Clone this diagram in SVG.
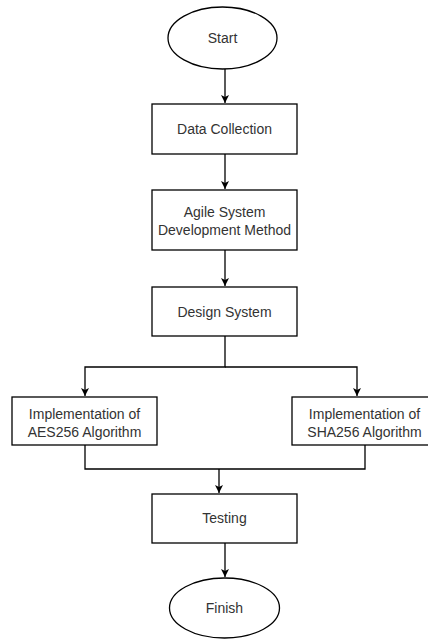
<svg xmlns="http://www.w3.org/2000/svg" width="428" height="640" viewBox="0 0 428 640">
<defs>
<marker id="arr" viewBox="0 0 10 10" refX="10" refY="5" markerWidth="8" markerHeight="8" markerUnits="userSpaceOnUse" orient="auto">
<path d="M0,0 L10,5 L0,10 L2.5,5 Z" fill="#000"/>
</marker>
</defs>
<style>
.box{fill:#fff;stroke:#000;stroke-width:1.3}
.t{font-family:"Liberation Sans",Arial,sans-serif;font-size:14px;fill:#333;text-anchor:middle}
.c{fill:none;stroke:#000;stroke-width:1.3}
</style>
<rect width="428" height="640" fill="#fff"/>
<g id="connectors">
<path class="c" d="M225,69 V103" marker-end="url(#arr)"/>
<path class="c" d="M225,154 V189" marker-end="url(#arr)"/>
<path class="c" d="M225,250 V286" marker-end="url(#arr)"/>
<path class="c" d="M225,336 V367 H85 V396" marker-end="url(#arr)"/>
<path class="c" d="M225,367 H357 V396" marker-end="url(#arr)"/>
<path class="c" d="M85,445 V469 H365 V445"/>
<path class="c" d="M219,469 V493" marker-end="url(#arr)"/>
<path class="c" d="M225,543 V577" marker-end="url(#arr)"/>
</g>
<g id="start">
<ellipse class="box" cx="222.5" cy="38" rx="54.5" ry="31"/>
<text class="t" x="222.5" y="43">Start</text>
</g>
<g id="data-collection">
<rect class="box" x="152" y="104" width="145" height="50"/>
<text class="t" x="224.5" y="134">Data Collection</text>
</g>
<g id="agile">
<rect class="box" x="152" y="190" width="145" height="60"/>
<text class="t" x="224.5" y="217">Agile System</text>
<text class="t" x="224.5" y="235">Development Method</text>
</g>
<g id="design">
<rect class="box" x="152" y="287" width="145" height="49"/>
<text class="t" x="224.5" y="316.5">Design System</text>
</g>
<g id="aes">
<rect class="box" x="12" y="397" width="145" height="48"/>
<text class="t" x="84.5" y="419">Implementation of</text>
<text class="t" x="84.5" y="437">AES256 Algorithm</text>
</g>
<g id="sha">
<rect class="box" x="292" y="397" width="145" height="48"/>
<text class="t" x="364.5" y="419">Implementation of</text>
<text class="t" x="364.5" y="437">SHA256 Algorithm</text>
</g>
<g id="testing">
<rect class="box" x="152" y="494" width="145" height="49"/>
<text class="t" x="224.5" y="523">Testing</text>
</g>
<g id="finish">
<ellipse class="box" cx="224.5" cy="608" rx="55" ry="30"/>
<text class="t" x="224.5" y="613">Finish</text>
</g>
</svg>
